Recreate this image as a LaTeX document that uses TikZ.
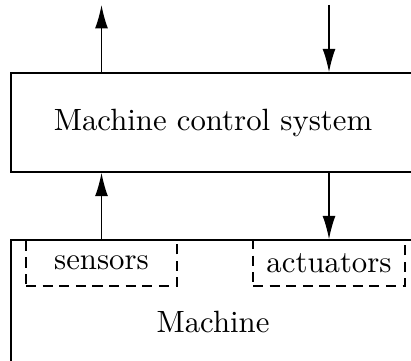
\documentclass[tikz,border=0pt]{standalone}
\usetikzlibrary{arrows.meta}
\tikzset{
  block/.style={draw, rectangle, inner sep=0pt, line width=0.45pt},
  part/.style={draw, rectangle, inner sep=0pt, line width=0.45pt,
    dash pattern=on 3.3pt off 2.1pt, minimum height=14.95pt},
  flow/.style={line width=0.45pt, -{Latex[length=7.6pt,width=4.2pt]}}
}
\begin{document}
\begin{tikzpicture}[x=0.325pt, y=-0.325pt]
  \useasboundingbox (0,0) rectangle (411,360);
  \clip (0,0) rectangle (411,360);

  % controller and plant
  \node[block, minimum width=131.3pt, minimum height=32.2pt] (ctrl) at (213,122.5) {Machine control system};
  \node[part, minimum width=49.1pt] (sens) at (101.5,263) {sensors};
  \node[part, minimum width=49.4pt] (act) at (329,263) {actuators};
  \node[block, minimum width=131.3pt, minimum height=53.3pt] (mach) at (213,322) {Machine};

  % free ends of the external signals
  \coordinate (out) at (101.5,5);
  \coordinate (in) at (329,5);

  % signal flow
  \draw[flow] (sens.north) -- (sens.north |- ctrl.south);
  \draw[flow] (sens.north |- ctrl.north) -- (out);
  \draw[flow] (in) -- (act.north |- ctrl.north);
  \draw[flow] (act.north |- ctrl.south) -- (act.north);
\end{tikzpicture}
\end{document}
